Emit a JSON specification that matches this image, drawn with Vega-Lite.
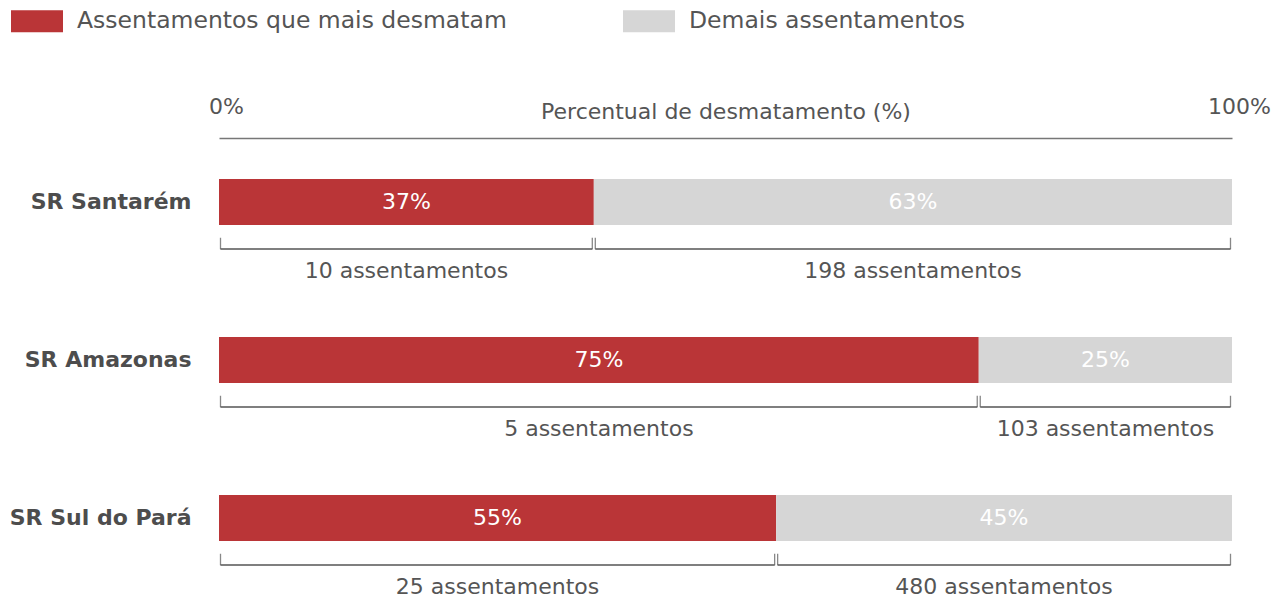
{
  "$schema": "https://vega.github.io/schema/vega-lite/v6.json",
  "width": 1013,
  "height": 474,
  "autosize": "none",
  "padding": {"left": 219, "top": 123, "right": 48, "bottom": 3},
  "background": "white",
  "config": {"view": {"stroke": null}, "font": "DejaVu Sans"},
  "data": {"values": [
    {"regiao": "SR Santarém", "categoria": "Assentamentos que mais desmatam", "pct": 37, "n": "10 assentamentos"},
    {"regiao": "SR Santarém", "categoria": "Demais assentamentos", "pct": 63, "n": "198 assentamentos"},
    {"regiao": "SR Amazonas", "categoria": "Assentamentos que mais desmatam", "pct": 75, "n": "5 assentamentos"},
    {"regiao": "SR Amazonas", "categoria": "Demais assentamentos", "pct": 25, "n": "103 assentamentos"},
    {"regiao": "SR Sul do Pará", "categoria": "Assentamentos que mais desmatam", "pct": 55, "n": "25 assentamentos"},
    {"regiao": "SR Sul do Pará", "categoria": "Demais assentamentos", "pct": 45, "n": "480 assentamentos"}
  ]},
  "transform": [
    {"stack": "pct", "groupby": ["regiao"], "sort": [{"field": "categoria", "order": "ascending"}], "as": ["x0", "x1"]}
  ],
  "encoding": {
    "y": {
      "field": "regiao", "type": "nominal",
      "sort": ["SR Santarém", "SR Amazonas", "SR Sul do Pará"],
      "scale": {"paddingInner": 0, "paddingOuter": 0},
      "axis": {"title": null, "domain": false, "ticks": false, "labelFontSize": 22, "labelFontWeight": "bold", "labelColor": "#4d4d4d", "labelPadding": 28, "labelLimit": 400}
    }
  },
  "layer": [
    {
      "mark": {"type": "bar", "height": {"band": 0.291}},
      "encoding": {
        "x": {
          "field": "x0", "type": "quantitative",
          "scale": {"domain": [0, 100], "nice": false},
          "axis": {"orient": "top", "values": [0, 100], "labelExpr": "datum.value + '%'", "title": "Percentual de desmatamento (%)",
                   "ticks": false, "grid": false, "domainColor": "#777", "domainWidth": 1.5, "offset": -15,
                   "labelFontSize": 22, "labelColor": "#555", "labelPadding": 20, "labelOffset": 7, "labelFlush": false, "labelFontWeight": "normal",
                   "titleFontSize": 22, "titleFontWeight": "normal", "titleColor": "#555", "titleY": -20, "titleBaseline": "alphabetic"}
        },
        "x2": {"field": "x1"},
        "color": {
          "field": "categoria", "type": "nominal",
          "scale": {"domain": ["Assentamentos que mais desmatam", "Demais assentamentos"], "range": ["#BA3537", "#D6D6D6"]},
          "legend": {"orient": "none", "legendX": -208, "legendY": -128, "direction": "horizontal", "title": null,
                     "symbolType": "M-1,-0.423L1,-0.423L1,0.423L-1,0.423Z", "symbolSize": 2704, "symbolStrokeWidth": 0,
                     "labelFontSize": 23.5, "labelColor": "#555", "labelOffset": 14, "columnPadding": 116, "padding": 0, "labelLimit": 600}
        }
      }
    },
    {
      "mark": {"type": "text", "color": "white", "fontSize": 22, "baseline": "middle", "text": {"expr": "datum.pct + '%'"}},
      "encoding": {
        "x": {"field": "pct", "type": "quantitative", "stack": "zero", "bandPosition": 0.5},
        "detail": {"field": "categoria"},
        "order": {"field": "categoria", "sort": "ascending"}
      }
    },
    {
      "mark": {"type": "text", "color": "#555", "fontSize": 22, "baseline": "middle", "dy": 69},
      "encoding": {
        "x": {"field": "pct", "type": "quantitative", "stack": "zero", "bandPosition": 0.5},
        "detail": {"field": "categoria"},
        "order": {"field": "categoria", "sort": "ascending"},
        "text": {"field": "n"}
      }
    },
    {
      "mark": {"type": "rule", "color": "#555", "strokeWidth": 1.3, "yOffset": 47, "xOffset": 1.5, "x2Offset": -1.5},
      "encoding": {"x": {"field": "x0", "type": "quantitative"}, "x2": {"field": "x1"}}
    },
    {
      "mark": {"type": "tick", "orient": "vertical", "color": "#555", "size": 11.5, "thickness": 1.3, "yOffset": 41.5, "xOffset": 1.5},
      "encoding": {"x": {"field": "x0", "type": "quantitative"}}
    },
    {
      "mark": {"type": "tick", "orient": "vertical", "color": "#555", "size": 11.5, "thickness": 1.3, "yOffset": 41.5, "xOffset": -1.5},
      "encoding": {"x": {"field": "x1", "type": "quantitative"}}
    }
  ]
}
